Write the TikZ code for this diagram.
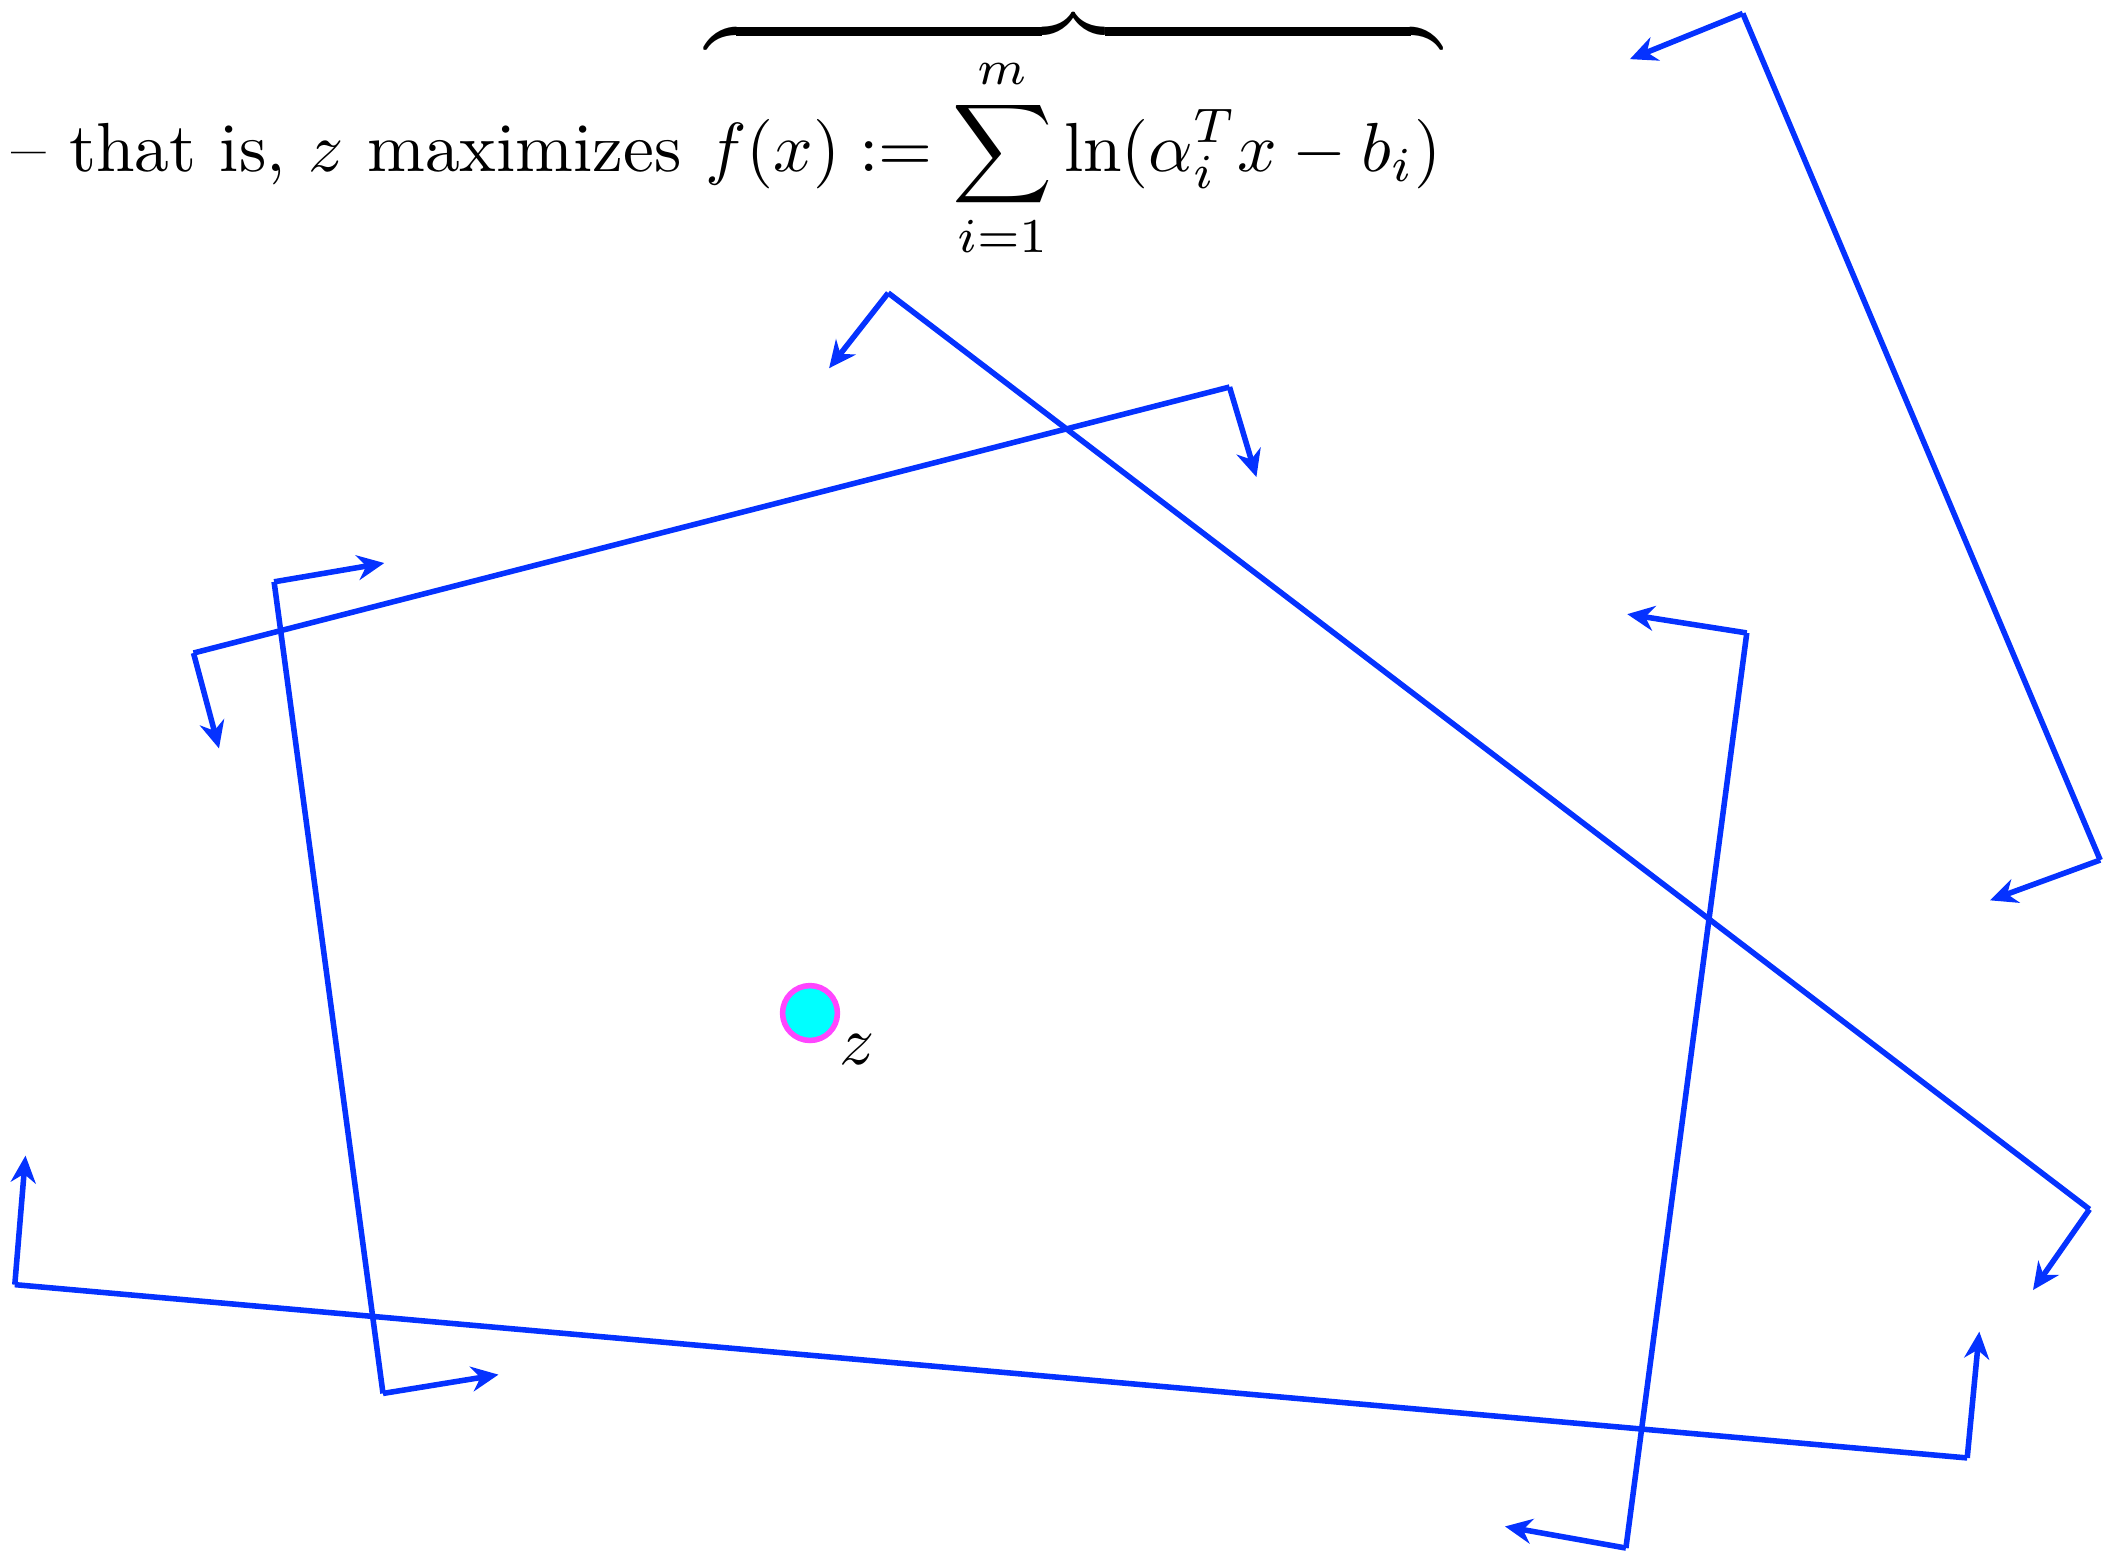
\documentclass[tikz,border=0pt]{standalone}
\usepackage{amsmath}
\usetikzlibrary{arrows.meta}
\definecolor{lineblue}{RGB}{5,50,255}
\definecolor{ptfill}{RGB}{0,255,255}
\definecolor{ptdraw}{RGB}{255,70,255}
\tikzset{
  hplane/.style={draw=lineblue, line width=0.8pt},
  normalarrow/.style={draw=lineblue, line width=0.8pt, -{Stealth[length=3.9pt,width=3.6pt]}},
  ptnode/.style={circle, fill=ptfill, draw=ptdraw, line width=0.8pt, minimum size=7.9pt, inner sep=0pt}
}
\begin{document}
\begin{tikzpicture}[x=0.144pt, y=-0.144pt]
\useasboundingbox (0,0) rectangle (2107,1551);
% formula
\node[anchor=base west, inner sep=0pt] (title) at (10,171)
  {-- that is, $z$ maximizes $\displaystyle\overbrace{f(x) := \sum_{i=1}^{m} \ln(\alpha_i^T x - b_i)}$};
% line 1
\coordinate (t1a) at (1629.9,59.1); \coordinate (a1) at (1742.8,13.4);
\coordinate (b1) at (2100.2,860.0); \coordinate (t1b) at (1990.0,900.3);
\draw[hplane] (a1) -- (b1);
\draw[normalarrow] (a1) -- (t1a);
\draw[normalarrow] (b1) -- (t1b);
% line 2
\coordinate (t2a) at (829.1,368.2); \coordinate (a2) at (888.2,292.9);
\coordinate (b2) at (2089.5,1209.3); \coordinate (t2b) at (2033.0,1290.0);
\draw[hplane] (a2) -- (b2);
\draw[normalarrow] (a2) -- (t2a);
\draw[normalarrow] (b2) -- (t2b);
% line 3
\coordinate (t3a) at (219.0,748.4); \coordinate (a3) at (193.5,653.0);
\coordinate (b3) at (1229.5,387.0); \coordinate (t3b) at (1256.4,477.0);
\draw[hplane] (a3) -- (b3);
\draw[normalarrow] (a3) -- (t3a);
\draw[normalarrow] (b3) -- (t3b);
% line 4
\coordinate (t4a) at (384.3,563.0); \coordinate (a4) at (274.1,581.8);
\coordinate (b4) at (383.0,1393.4); \coordinate (t4b) at (498.5,1374.6);
\draw[hplane] (a4) -- (b4);
\draw[normalarrow] (a4) -- (t4a);
\draw[normalarrow] (b4) -- (t4b);
% line 5
\coordinate (t5a) at (1627.2,614.1); \coordinate (a5) at (1746.8,632.9);
\coordinate (b5) at (1625.9,1548.0); \coordinate (t5b) at (1505.0,1526.4);
\draw[hplane] (a5) -- (b5);
\draw[normalarrow] (a5) -- (t5a);
\draw[normalarrow] (b5) -- (t5b);
% line 6
\coordinate (t6a) at (25.5,1155.6); \coordinate (a6) at (14.8,1284.6);
\coordinate (b6) at (1967.2,1457.9); \coordinate (t6b) at (1979.3,1331.6);
\draw[hplane] (a6) -- (b6);
\draw[normalarrow] (a6) -- (t6a);
\draw[normalarrow] (b6) -- (t6b);
% point z
\node[ptnode] (z) at (810,1013) {};
\node[inner sep=0pt] (zlab) at (857,1050) {$z$};
\end{tikzpicture}
\end{document}
